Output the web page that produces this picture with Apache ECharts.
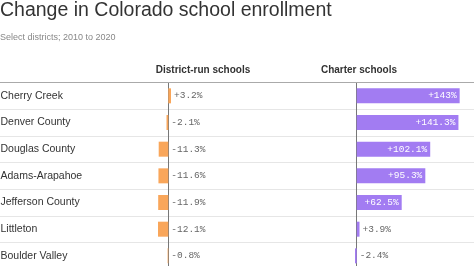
<!DOCTYPE html>
<html lang="en">
<head>
   <meta charset="UTF-8">
   <title>Colorado school enrollment</title>
   <script src="https://cdn.jsdelivr.net/npm/echarts@6/dist/echarts.min.js"></script>
   <style type="text/css">
   body{margin:0; padding:0; background:#fff;}
   #main{width:474px;height:266px;}
   </style>
</head>
<body>
<div id="main"></div>
<script type="text/javascript">
var districts = ['Cherry Creek', 'Denver County', 'Douglas County', 'Adams-Arapahoe',
                 'Jefferson County', 'Littleton', 'Boulder Valley'];
var districtRun = [3.2, -2.1, -11.3, -11.6, -11.9, -12.1, -0.8];
var charter = [143, 141.3, 102.1, 95.3, 62.5, 3.9, -2.4];

function fmt(v) {
    return (v > 0 ? '+' : '-') + Math.abs(v) + '%';
}

var rowTop = 82.5;
var rowH = 26.67;
var gridH = rowH * districts.length;

var sans = '"Liberation Sans", Arial, sans-serif';
var monoLabel = {
    fontFamily: '"Liberation Mono", "DejaVu Sans Mono", monospace',
    fontSize: 9.5,
    color: '#666'
};

// charter labels go inside the bar when it is long enough
var charterData = [];
for (var i = 0; i < charter.length; i++) {
    var inside = charter[i] > 30;
    charterData.push({
        value: charter[i],
        label: {
            position: inside ? 'insideRight' : 'right',
            color: inside ? '#fff' : '#666'
        }
    });
}

var myChart = echarts.init(document.getElementById('main'));
var option = {
    animation: false,
    backgroundColor: '#fff',
    title: [
        {
            text: 'Change in Colorado school enrollment',
            left: 0, top: 1, padding: 0,
            textStyle: {fontFamily: sans, fontSize: 19.5, fontWeight: 'normal', color: '#333'}
        },
        {
            text: 'Select districts; 2010 to 2020',
            left: 0, top: 33, padding: 0,
            textStyle: {fontFamily: sans, fontSize: 9, fontWeight: 'normal', color: '#888'}
        },
        {
            text: 'District-run schools',
            left: 203, top: 65, padding: 0, textAlign: 'center',
            textStyle: {fontFamily: sans, fontSize: 10, fontWeight: 'bold', color: '#333'}
        },
        {
            text: 'Charter schools',
            left: 359, top: 65, padding: 0, textAlign: 'center',
            textStyle: {fontFamily: sans, fontSize: 10, fontWeight: 'bold', color: '#333'}
        }
    ],
    grid: [
        {left: 151.3, top: rowTop, width: 85, height: gridH, outerBoundsMode: 'none'},
        {left: 342.3, top: rowTop, width: 122.4, height: gridH, outerBoundsMode: 'none'},
        {left: 0, right: 0, top: rowTop, height: gridH, outerBoundsMode: 'none'}
    ],
    xAxis: [
        {gridIndex: 0, type: 'value', min: -20, max: 80, show: false},
        {gridIndex: 1, type: 'value', min: -20, max: 150, show: false},
        {
            gridIndex: 2, type: 'value', min: 0, max: 1, position: 'top',
            axisLine: {show: true, lineStyle: {color: '#aaa', width: 1}},
            axisTick: {show: false}, axisLabel: {show: false}, splitLine: {show: false}
        }
    ],
    yAxis: [
        {
            gridIndex: 0, type: 'category', data: districts, inverse: true,
            axisLine: {show: true, onZero: true, lineStyle: {color: '#777', width: 1}},
            axisTick: {show: false}, axisLabel: {show: false}
        },
        {
            gridIndex: 1, type: 'category', data: districts, inverse: true,
            axisLine: {show: true, onZero: true, lineStyle: {color: '#777', width: 1}},
            axisTick: {show: false}, axisLabel: {show: false}
        },
        {
            // full-width rows: district names and row separators
            gridIndex: 2, type: 'category', data: districts, inverse: true,
            axisLine: {show: false}, axisTick: {show: false},
            axisLabel: {
                inside: true, margin: 0.5,
                fontFamily: sans, fontSize: 10.5, color: '#333'
            },
            splitLine: {show: true, lineStyle: {color: '#e6e6e6', width: 1}}
        }
    ],
    series: [
        {
            name: 'District-run schools', type: 'bar',
            xAxisIndex: 0, yAxisIndex: 0,
            barWidth: 15,
            itemStyle: {color: '#F9A65A'},
            label: {
                show: true, position: 'right', distance: 3,
                fontFamily: monoLabel.fontFamily, fontSize: monoLabel.fontSize, color: monoLabel.color,
                formatter: function (p) { return fmt(p.value); }
            },
            data: districtRun
        },
        {
            name: 'Charter schools', type: 'bar',
            xAxisIndex: 1, yAxisIndex: 1,
            barWidth: 15,
            itemStyle: {color: '#A27CF2'},
            label: {
                show: true, distance: 3,
                fontFamily: monoLabel.fontFamily, fontSize: monoLabel.fontSize,
                formatter: function (p) { return fmt(p.value); }
            },
            data: charterData
        },
        {
            type: 'bar', xAxisIndex: 2, yAxisIndex: 2, data: [], silent: true
        }
    ]
};
myChart.setOption(option);
</script>
</body>
</html>
